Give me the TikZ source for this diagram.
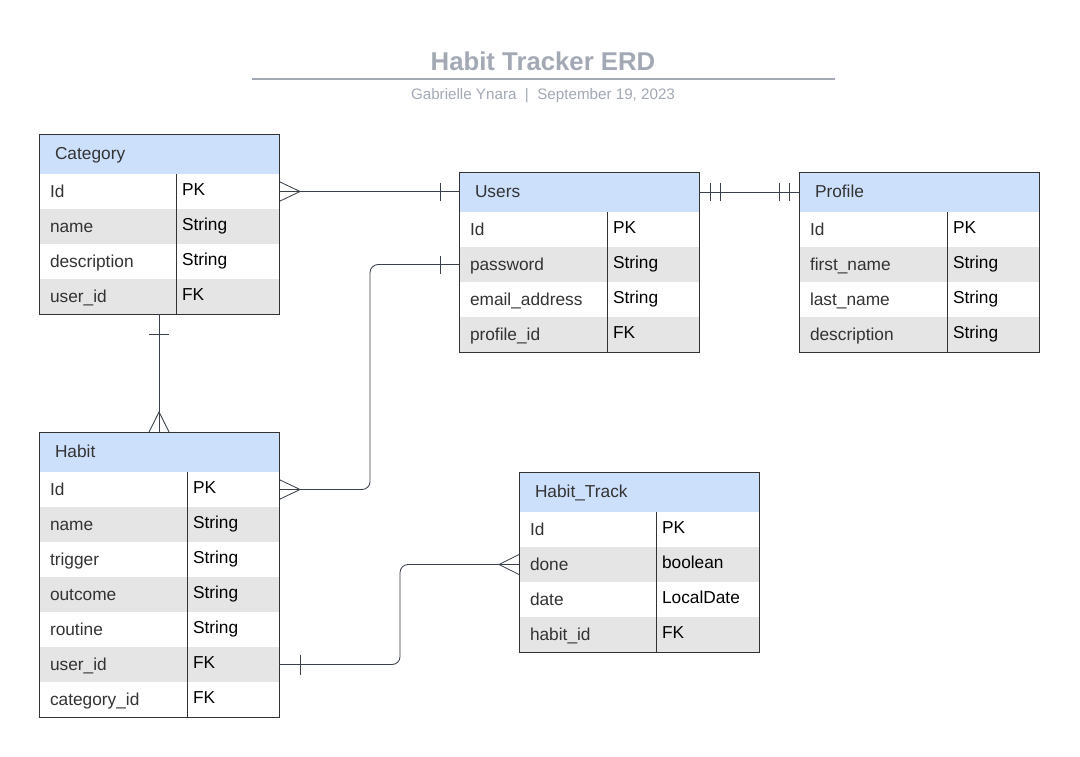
\documentclass[tikz,border=0pt]{standalone}
\usepackage{fontspec}
\setmainfont{Liberation Sans}
\usetikzlibrary{positioning,calc}

\definecolor{headblue}{HTML}{CCE0FC}
\definecolor{rowgray}{HTML}{E5E5E5}
\definecolor{edgegray}{HTML}{333333}
\definecolor{linkgray}{HTML}{3A414A}
\definecolor{titlegray}{HTML}{A3A9B4}

\begin{document}
\begin{tikzpicture}[
    x=0.025cm, y=-0.025cm,
    header/.style={
        rectangle,
        anchor=north west,
        minimum height=1cm,
        text width=5.2cm,
        inner xsep=0.4cm,
        outer sep=0pt,
        text height=0.25cm,
        text depth=0cm,
        align=left,
        draw=edgegray,
        line width=0.6pt,
        fill=headblue,
        text=edgegray,
        font=\fontsize{12.3}{14}\selectfont
    },
    fieldname/.style={
        rectangle,
        anchor=north west,
        minimum height=0.875cm,
        inner xsep=0.275cm,
        outer sep=0pt,
        text height=0.3cm,
        text depth=0cm,
        align=left,
        text=edgegray,
        font=\fontsize{12.3}{14}\selectfont
    },
    fieldtype/.style={
        fieldname,
        inner xsep=0.15cm,
        text height=0.2cm,
        text=black
    },
    namecellA/.style={fieldname, text width=2.875cm},
    namecellB/.style={fieldname, text width=3.15cm},
    typecellA/.style={fieldtype, text width=2.275cm},
    typecellB/.style={fieldtype, text width=2cm},
    frame/.style={draw=edgegray, line width=0.6pt},
    link/.style={draw=linkgray, line width=0.6pt}
]
\fill[white] (0,0) rectangle (1080,757);
\useasboundingbox (0,0) rectangle (1080,757);

% Title
\node[font=\fontsize{18.3}{22}\selectfont\bfseries, text=titlegray] (title) at (543,61) {Habit Tracker ERD};
\draw[titlegray, line width=1.4pt] (252,79) -- (835,79);
\node[font=\fontsize{10.8}{13}\selectfont, text=titlegray] (byline) at (543,96) {Gabrielle Ynara \ | \ September 19, 2023};

% Category
\node[header] (cat) at (39,134) {Category};
\foreach \f/\t [count=\i] in {Id/PK, name/String, description/String, user\_id/FK}{
    \ifodd\i \def\rowfill{white}\else \def\rowfill{rowgray}\fi
    \node[namecellA, fill=\rowfill] (cat-\i) at (39,{139+35*\i}) {\f};
    \node[typecellA, fill=\rowfill] (cat-\i-type) at (cat-\i.north east) {\t};
}
\draw[frame] (cat.north west) rectangle (cat-4-type.south east);
\draw[frame] (cat-1-type.north west) -- (cat-4-type.south west);

% Users
\node[header] (usr) at (459,172) {Users};
\foreach \f/\t [count=\i] in {Id/PK, password/String, email\_address/String, profile\_id/FK}{
    \ifodd\i \def\rowfill{white}\else \def\rowfill{rowgray}\fi
    \node[namecellB, fill=\rowfill] (usr-\i) at (459,{177+35*\i}) {\f};
    \node[typecellB, fill=\rowfill] (usr-\i-type) at (usr-\i.north east) {\t};
}
\draw[frame] (usr.north west) rectangle (usr-4-type.south east);
\draw[frame] (usr-1-type.north west) -- (usr-4-type.south west);

% Profile
\node[header] (prf) at (799,172) {Profile};
\foreach \f/\t [count=\i] in {Id/PK, first\_name/String, last\_name/String, description/String}{
    \ifodd\i \def\rowfill{white}\else \def\rowfill{rowgray}\fi
    \node[namecellB, fill=\rowfill] (prf-\i) at (799,{177+35*\i}) {\f};
    \node[typecellB, fill=\rowfill] (prf-\i-type) at (prf-\i.north east) {\t};
}
\draw[frame] (prf.north west) rectangle (prf-4-type.south east);
\draw[frame] (prf-1-type.north west) -- (prf-4-type.south west);

% Habit
\node[header] (hab) at (39,432) {Habit};
\foreach \f/\t [count=\i] in {Id/PK, name/String, trigger/String, outcome/String, routine/String, user\_id/FK, category\_id/FK}{
    \ifodd\i \def\rowfill{white}\else \def\rowfill{rowgray}\fi
    \node[namecellB, fill=\rowfill] (hab-\i) at (39,{437+35*\i}) {\f};
    \node[typecellB, fill=\rowfill] (hab-\i-type) at (hab-\i.north east) {\t};
}
\draw[frame] (hab.north west) rectangle (hab-7-type.south east);
\draw[frame] (hab-1-type.north west) -- (hab-7-type.south west);

% Habit_Track
\node[header] (trk) at (519,472) {Habit\_Track};
\foreach \f/\t [count=\i] in {Id/PK, done/boolean, date/LocalDate, habit\_id/FK}{
    \ifodd\i \def\rowfill{white}\else \def\rowfill{rowgray}\fi
    \node[namecellA, fill=\rowfill] (trk-\i) at (519,{477+35*\i}) {\f};
    \node[typecellA, fill=\rowfill] (trk-\i-type) at (trk-\i.north east) {\t};
}
\draw[frame] (trk.north west) rectangle (trk-4-type.south east);
\draw[frame] (trk-1-type.north west) -- (trk-4-type.south west);

% Category >--| Users
\draw[link] (cat-1-type.east) -- (cat-1-type.east -| usr.west);
\draw[link] ($(cat-1-type.east)+(0,-10)$) -- ++(21,10) -- ++(-21,10);
\draw[link] ($(usr.west)+(-19,-9)$) -- ++(0,18);

% Users ||--|| Profile
\draw[link] (usr.east) -- (prf.west);
\draw[link] ($(usr.east)+(11,-9)$) -- ++(0,18);
\draw[link] ($(usr.east)+(21,-9)$) -- ++(0,18);
\draw[link] ($(prf.west)+(-20,-9)$) -- ++(0,18);
\draw[link] ($(prf.west)+(-10,-9)$) -- ++(0,18);

% Users |--< Habit
\draw[link, rounded corners=0.2cm] (usr-2.west) -| ($(hab-1-type.east)+(91,0)$) -- (hab-1-type.east);
\draw[link] ($(usr-2.west)+(-19,-9)$) -- ++(0,18);
\draw[link] ($(hab-1-type.east)+(0,-10)$) -- ++(21,10) -- ++(-21,10);

% Category |--< Habit
\draw[link] (cat.south |- cat-4.south) -- (hab.north);
\draw[link] ($(cat.south |- cat-4.south)+(-10,20)$) -- ++(20,0);
\draw[link] ($(hab.north)+(-10,0)$) -- ++(10,-20) -- ++(10,20);

% Habit |--< Habit_Track
\draw[link, rounded corners=0.2cm] (hab-6-type.east) -- ++(121,0) |- (trk-2.west);
\draw[link] ($(hab-6-type.east)+(21,-10)$) -- ++(0,20);
\draw[link] ($(trk-2.west)+(0,-10)$) -- ++(-20,10) -- ++(20,10);

\end{tikzpicture}
\end{document}
